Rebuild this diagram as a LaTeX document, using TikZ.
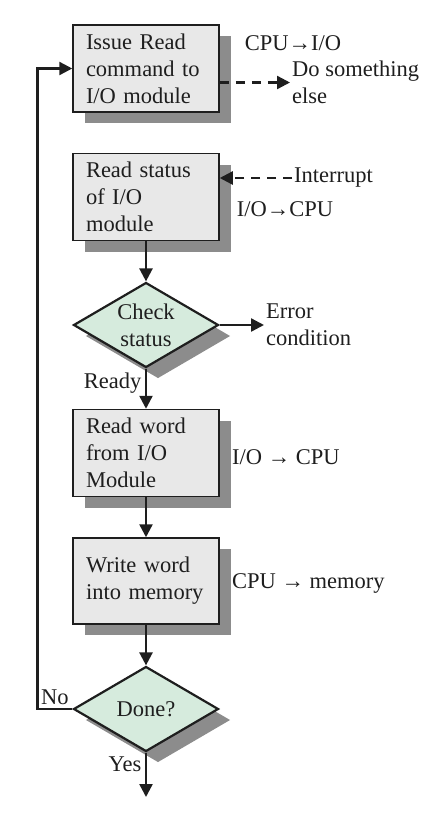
\documentclass[tikz,border=0pt]{standalone}
\usepackage{fontspec}
\setmainfont{Liberation Serif}
\usetikzlibrary{shapes.geometric,arrows.meta,shadows}
\definecolor{boxgray}{HTML}{E8E8E8}
\definecolor{shadegray}{HTML}{8C8C8C}
\definecolor{palegreen}{HTML}{D6EBDD}
\definecolor{inkgray}{HTML}{1E1E1E}

\begin{document}
\begin{tikzpicture}[
    x=1pt, y=-1pt,
    every node/.style={font=\fontsize{22.5}{27}\selectfont, text=inkgray},
    box/.style={draw=inkgray, rectangle, line width=1.5pt, fill=boxgray, minimum width=146pt, minimum height=87pt, text width=120pt, inner xsep=13pt, align=left, general shadow={fill=shadegray, shadow xshift=12pt, shadow yshift=-11pt}},
    decision/.style={draw=inkgray, diamond, line width=2.2pt, fill=palegreen, minimum width=145pt, minimum height=85pt, inner sep=0pt, general shadow={fill=shadegray, shadow xshift=12pt, shadow yshift=-11pt}},
    side/.style={anchor=west, align=left, inner sep=2pt},
    arrow/.style={draw=inkgray, line width=2.4pt, -{Triangle[length=13pt,width=13pt]}},
    dasharrow/.style={arrow, dash pattern=on 9pt off 7pt}
]
    \useasboundingbox (0,0) rectangle (432,815);

    % 1. Main steps
    \node[box] (issue) at (146,68.5) {Issue Read\\command to\\I/O module};
    \node[box] (status) at (146,197) {Read status\\of I/O\\module};
    \node[decision, label={[align=center]center:{Check\\status}}] (check) at (146,325) {};
    \node[box] (readword) at (146,453) {Read word\\from I/O\\Module};
    \node[box, minimum height=86pt] (write) at (146,581) {Write word\\into memory};
    \node[decision, label={center:Done?}] (done) at (146,709) {};
    \coordinate (finish) at (146,797);

    % 2. Side notes
    \node (cpuio) at (293,43) {CPU→I/O};
    \node[side] (other) at (290,82.5) {Do something\\else};
    \node[side] (intr) at (292,178) {Interrupt};
    \node (iocpu) at (285,209) {I/O→CPU};
    \node[side] (err) at (264,325) {Error\\condition};
    \node[side] (iocpu2) at (230,457) {I/O → CPU};
    \node[side] (cpumem) at (230,583) {CPU → memory};

    % 3. Connections
    \draw[dasharrow] (issue.east |- other.west) -- (other.west);
    \draw[dasharrow] (intr.west) -- (status.east |- intr.west);
    \draw[arrow] (status) -- (check);
    \draw[arrow] (check.east) -- (err.west);
    \draw[arrow] (check) -- node[left, pos=0.37] {Ready} (readword);
    \draw[arrow] (readword) -- (write);
    \draw[arrow] (write) -- (done);
    \draw[arrow] (done) -- node[left, pos=0.27] {Yes} (finish);

    % Loop back to the first step
    \draw[arrow] (done.west) -- node[above] {No} ++(-35,0) |- (issue.west);

\end{tikzpicture}
\end{document}
